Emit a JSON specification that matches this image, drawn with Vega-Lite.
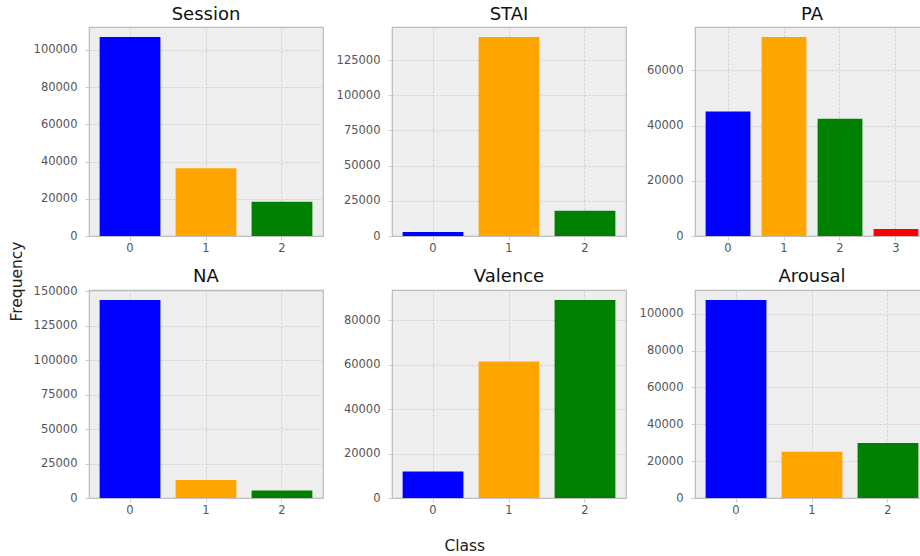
{
  "$schema": "https://vega.github.io/schema/vega-lite/v6.json",
  "padding": {"left": 10, "top": 4, "right": 0, "bottom": 0},
  "background": "white",
  "title": {"text": "Class", "orient": "bottom", "anchor": "middle", "fontSize": 15.5, "color": "#222222", "offset": 23, "dx": -5},
  "vconcat": [
    {
      "title": {"text": "Frequency", "orient": "left", "anchor": "middle", "fontSize": 15.5, "color": "#222222", "offset": 7, "dx": -21},
      "columns": 3,
      "bounds": "flush",
      "spacing": {"row": 54, "column": 69},
      "concat": [
        {
          "title": {"text": "Session", "offset": 3.5},
          "width": 234, "height": 209,
          "data": {"values": [{"cls": 0, "count": 107000}, {"cls": 1, "count": 36400}, {"cls": 2, "count": 18400}]},
          "mark": {"type": "bar"},
          "encoding": {
            "x": {"field": "cls", "type": "ordinal", "scale": {"paddingInner": 0.2, "paddingOuter": 0.14}, "axis": {"title": null, "labelAngle": 0, "bandPosition": 0.5}},
            "y": {"field": "count", "type": "quantitative", "scale": {"domain": [0, 112350], "nice": false}, "axis": {"title": null, "values": [0, 20000, 40000, 60000, 80000, 100000], "format": "d"}},
            "color": {"field": "cls", "type": "ordinal", "scale": {"domain": [0, 1, 2, 3], "range": ["#0000ff", "#ffa500", "#008000", "#ff0000"]}, "legend": null}
          }
        },
        {
          "title": {"text": "STAI", "offset": 3.5},
          "width": 234, "height": 209,
          "data": {"values": [{"cls": 0, "count": 2900}, {"cls": 1, "count": 141400}, {"cls": 2, "count": 17900}]},
          "mark": {"type": "bar"},
          "encoding": {
            "x": {"field": "cls", "type": "ordinal", "scale": {"paddingInner": 0.2, "paddingOuter": 0.14}, "axis": {"title": null, "labelAngle": 0, "bandPosition": 0.5}},
            "y": {"field": "count", "type": "quantitative", "scale": {"domain": [0, 148470], "nice": false}, "axis": {"title": null, "values": [0, 25000, 50000, 75000, 100000, 125000], "format": "d"}},
            "color": {"field": "cls", "type": "ordinal", "scale": {"domain": [0, 1, 2, 3], "range": ["#0000ff", "#ffa500", "#008000", "#ff0000"]}, "legend": null}
          }
        },
        {
          "title": {"text": "PA", "offset": 3.5},
          "width": 234, "height": 209,
          "data": {"values": [{"cls": 0, "count": 45100}, {"cls": 1, "count": 72100}, {"cls": 2, "count": 42500}, {"cls": 3, "count": 2550}]},
          "mark": {"type": "bar"},
          "encoding": {
            "x": {"field": "cls", "type": "ordinal", "scale": {"paddingInner": 0.2, "paddingOuter": 0.19}, "axis": {"title": null, "labelAngle": 0, "bandPosition": 0.5}},
            "y": {"field": "count", "type": "quantitative", "scale": {"domain": [0, 75705], "nice": false}, "axis": {"title": null, "values": [0, 20000, 40000, 60000], "format": "d"}},
            "color": {"field": "cls", "type": "ordinal", "scale": {"domain": [0, 1, 2, 3], "range": ["#0000ff", "#ffa500", "#008000", "#ff0000"]}, "legend": null}
          }
        },
        {
          "title": {"text": "NA", "offset": -0.5},
          "width": 234, "height": 208,
          "data": {"values": [{"cls": 0, "count": 143800}, {"cls": 1, "count": 13100}, {"cls": 2, "count": 5500}]},
          "mark": {"type": "bar"},
          "encoding": {
            "x": {"field": "cls", "type": "ordinal", "scale": {"paddingInner": 0.2, "paddingOuter": 0.14}, "axis": {"title": null, "labelAngle": 0, "bandPosition": 0.5}},
            "y": {"field": "count", "type": "quantitative", "scale": {"domain": [0, 150990], "nice": false}, "axis": {"title": null, "values": [0, 25000, 50000, 75000, 100000, 125000, 150000], "format": "d"}},
            "color": {"field": "cls", "type": "ordinal", "scale": {"domain": [0, 1, 2, 3], "range": ["#0000ff", "#ffa500", "#008000", "#ff0000"]}, "legend": null}
          }
        },
        {
          "title": {"text": "Valence", "offset": 4.5},
          "width": 234, "height": 208,
          "data": {"values": [{"cls": 0, "count": 11900}, {"cls": 1, "count": 61400}, {"cls": 2, "count": 89150}]},
          "mark": {"type": "bar"},
          "encoding": {
            "x": {"field": "cls", "type": "ordinal", "scale": {"paddingInner": 0.2, "paddingOuter": 0.14}, "axis": {"title": null, "labelAngle": 0, "bandPosition": 0.5}},
            "y": {"field": "count", "type": "quantitative", "scale": {"domain": [0, 93600], "nice": false}, "axis": {"title": null, "values": [0, 20000, 40000, 60000, 80000], "format": "d"}},
            "color": {"field": "cls", "type": "ordinal", "scale": {"domain": [0, 1, 2, 3], "range": ["#0000ff", "#ffa500", "#008000", "#ff0000"]}, "legend": null}
          }
        },
        {
          "title": {"text": "Arousal", "offset": 4.5},
          "width": 234, "height": 208,
          "data": {"values": [{"cls": 0, "count": 107500}, {"cls": 1, "count": 25100}, {"cls": 2, "count": 29800}]},
          "mark": {"type": "bar"},
          "encoding": {
            "x": {"field": "cls", "type": "ordinal", "scale": {"paddingInner": 0.2, "paddingOuter": 0.14}, "axis": {"title": null, "labelAngle": 0, "bandPosition": 0.5}},
            "y": {"field": "count", "type": "quantitative", "scale": {"domain": [0, 112900], "nice": false}, "axis": {"title": null, "values": [0, 20000, 40000, 60000, 80000, 100000], "format": "d"}},
            "color": {"field": "cls", "type": "ordinal", "scale": {"domain": [0, 1, 2, 3], "range": ["#0000ff", "#ffa500", "#008000", "#ff0000"]}, "legend": null}
          }
        }
      ]
    }
  ],
  "config": {
    "font": "DejaVu Sans",
    "view": {"fill": "#eeeeee", "stroke": "#bcbcbc", "strokeWidth": 1.2},
    "axis": {
      "domain": false,
      "grid": true,
      "gridColor": "#c4c4c4",
      "gridDash": [2, 2],
      "gridWidth": 0.8,
      "ticks": true,
      "tickSize": 4,
      "tickColor": "#c0c0c0",
      "tickWidth": 0.8,
      "labelFont": "DejaVu Sans",
      "labelFontSize": 11.5,
      "labelColor": "#555555"
    },
    "axisY": {"labelPadding": 8},
    "axisX": {"labelPadding": 2},
    "title": {"font": "DejaVu Sans", "fontSize": 18, "fontWeight": "normal", "color": "#111111"}
  }
}
